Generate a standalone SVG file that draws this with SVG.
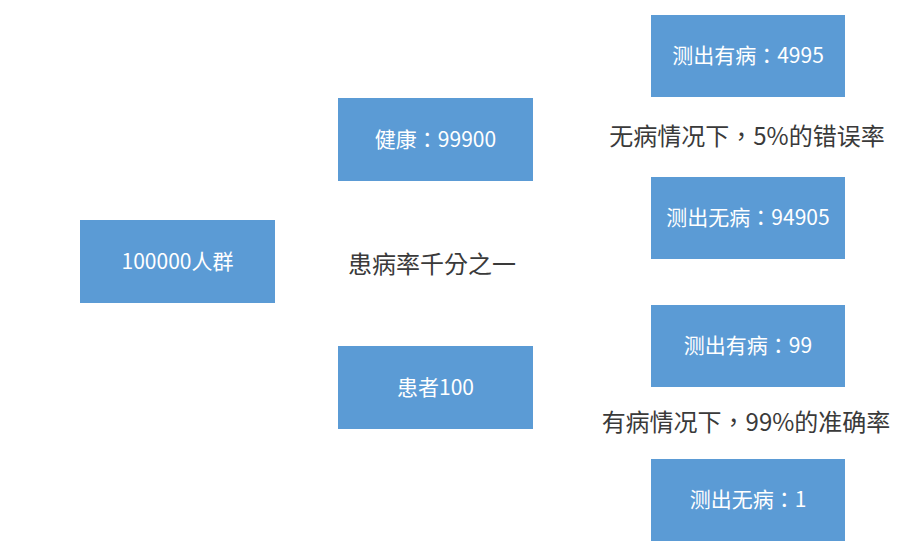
<svg xmlns="http://www.w3.org/2000/svg" width="908" height="553" viewBox="0 0 908 553">
<style>
.box{fill:#5b9bd5;}
.bt{fill:#ffffff;font-family:"Noto Sans CJK TC","Noto Sans CJK SC",sans-serif;font-size:21px;text-anchor:middle;dominant-baseline:central;}
.lbl{fill:#3a3a3a;font-family:"Noto Sans CJK TC","Noto Sans CJK SC",sans-serif;font-size:24px;text-anchor:middle;dominant-baseline:central;}
</style>
<rect width="908" height="553" fill="#ffffff"/>
<g id="connectors"></g>
<g id="root"><rect class="box" x="80" y="220" width="195" height="83"/><text class="bt" x="177.5" y="259.5">100000人群</text></g>
<g id="healthy"><rect class="box" x="338" y="98" width="195" height="83"/><text class="bt" x="435.5" y="137.5">健康：99900</text></g>
<g id="patient"><rect class="box" x="338" y="346" width="195" height="83"/><text class="bt" x="435.5" y="385.5">患者100</text></g>
<g id="h-pos"><rect class="box" x="651" y="15" width="194" height="82"/><text class="bt" x="748" y="54">测出有病：4995</text></g>
<g id="h-neg"><rect class="box" x="651" y="177" width="194" height="82"/><text class="bt" x="748" y="216">测出无病：94905</text></g>
<g id="p-pos"><rect class="box" x="651" y="305" width="194" height="82"/><text class="bt" x="748" y="344">测出有病：99</text></g>
<g id="p-neg"><rect class="box" x="651" y="459" width="194" height="82"/><text class="bt" x="748" y="498">测出无病：1</text></g>
<g id="labels">
<text class="lbl" x="432" y="262">患病率千分之一</text>
<text class="lbl" x="747" y="134">无病情况下，5%的错误率</text>
<text class="lbl" x="746" y="420">有病情况下，99%的准确率</text>
</g>
</svg>
